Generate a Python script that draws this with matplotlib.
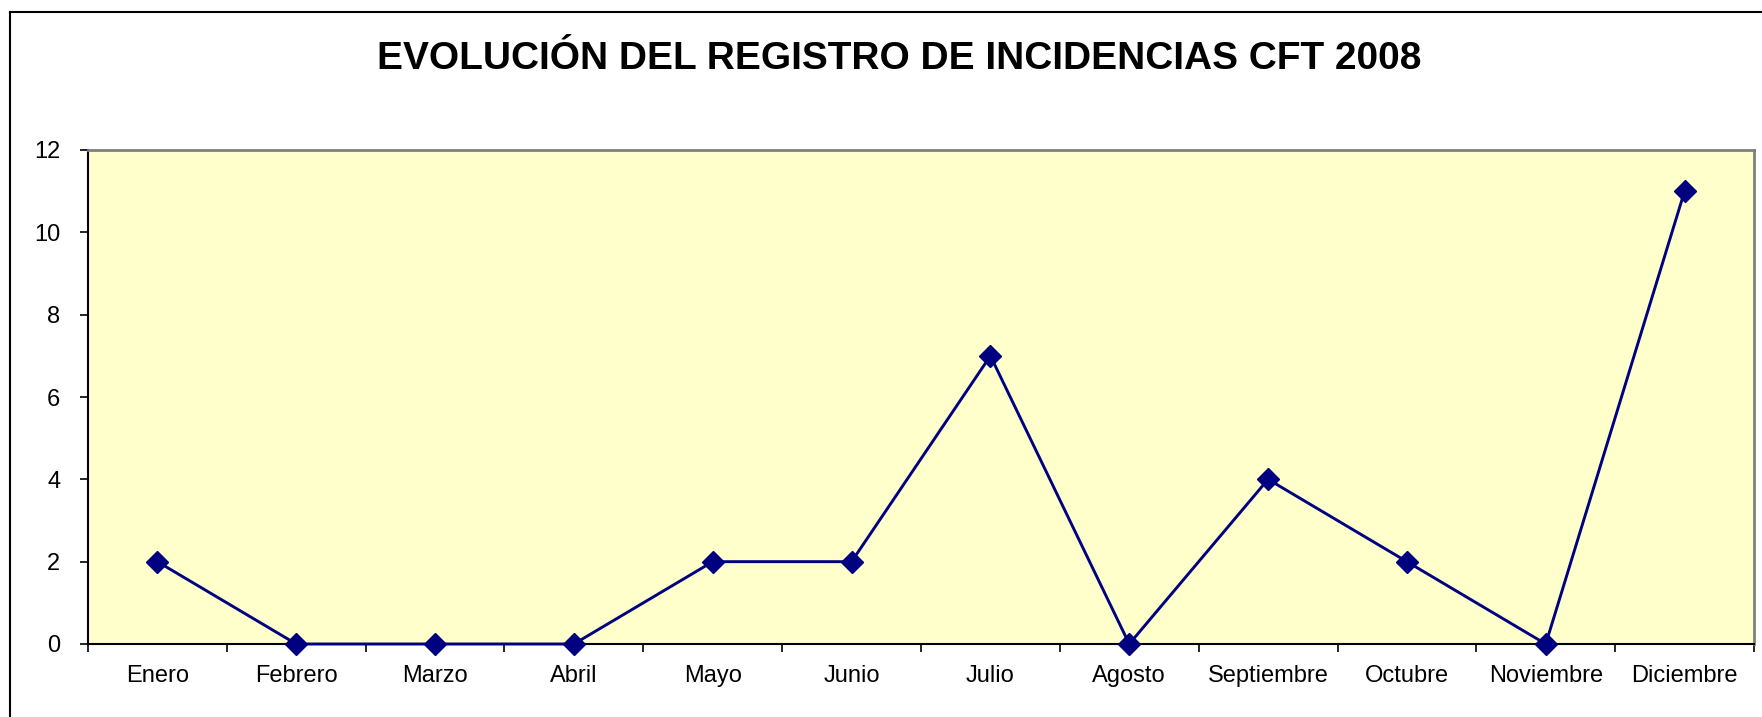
import matplotlib.pyplot as plt
from matplotlib.lines import Line2D

plt.rcParams['font.family'] = ['Liberation Sans', 'DejaVu Sans']

# data
MESES = ['Enero', 'Febrero', 'Marzo', 'Abril', 'Mayo', 'Junio', 'Julio',
         'Agosto', 'Septiembre', 'Octubre', 'Noviembre', 'Diciembre']
INCIDENCIAS = [2, 0, 0, 0, 2, 2, 7, 0, 4, 2, 0, 11]
Y_TICKS = [0, 2, 4, 6, 8, 10, 12]
TITULO = 'EVOLUCIÓN DEL REGISTRO DE INCIDENCIAS CFT 2008'

W, H = 1762, 717
fig = plt.figure(figsize=(W / 100, H / 100), dpi=100)
ax = fig.add_axes([88 / W, 1 - 644 / H, (1754 - 88) / W, (644 - 150) / H])
ax.set_facecolor('#FFFFCC')

x = list(range(len(MESES)))
ax.plot(x, INCIDENCIAS, color='#000080', lw=2.1, marker='D', ms=11,
        mfc='#000080', mec='#000080', clip_on=False, zorder=3)

ax.set_xlim(-0.5, len(MESES) - 0.5)
ax.set_ylim(0, 12)
ax.set_yticks(Y_TICKS)
ax.set_yticklabels([str(v) for v in Y_TICKS])
ax.set_xticks(x)
ax.set_xticklabels(MESES)
ax.tick_params(axis='x', which='major', length=0, pad=15, labelsize=17)
ax.set_xticks([i - 0.5 for i in range(len(MESES) + 1)], minor=True)
ax.tick_params(axis='x', which='minor', length=6, width=1.2, direction='out')
ax.tick_params(axis='y', length=6, width=1.2, direction='out', pad=14, labelsize=17)

for side in ['left', 'bottom']:
    ax.spines[side].set_color('black')
    ax.spines[side].set_linewidth(1.5)
for side in ['top', 'right']:
    ax.spines[side].set_color('#808080')
    ax.spines[side].set_linewidth(2)

fig.text(899 / W, 1 - 59 / H, TITULO, ha='center', va='center',
         fontsize=28, fontweight='bold')

# outer chart frame (cut at right and bottom)
fig.add_artist(Line2D([9.5 / W, 9.5 / W], [0, 1 - 12 / H], color='black', lw=1.5,
                      transform=fig.transFigure))
fig.add_artist(Line2D([9.5 / W, 1], [1 - 12 / H, 1 - 12 / H], color='black', lw=1.5,
                      transform=fig.transFigure))

fig.savefig('out.png', dpi=100)
